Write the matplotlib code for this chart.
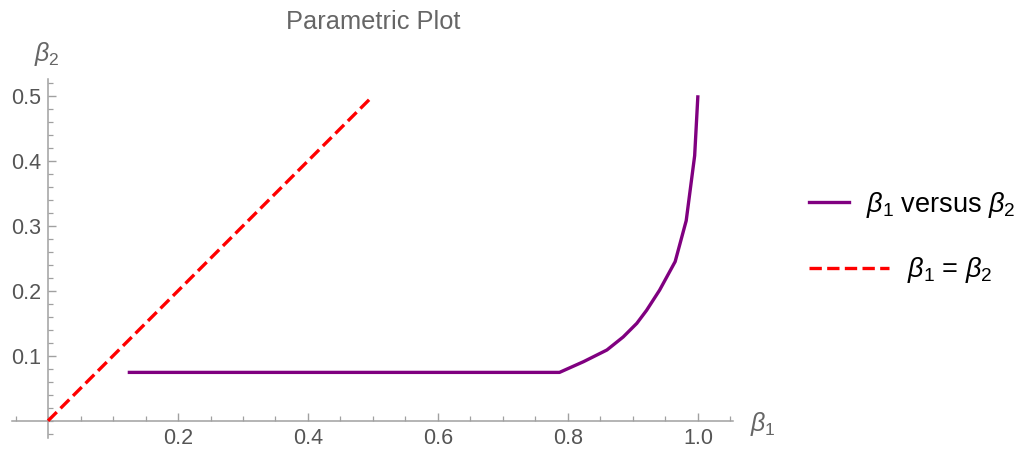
import matplotlib
matplotlib.use("Agg")
import matplotlib.pyplot as plt
from matplotlib.lines import Line2D
from matplotlib.ticker import MultipleLocator, FixedLocator
import numpy as np

plt.rcParams['font.family'] = ['Liberation Sans', 'DejaVu Sans']
plt.rcParams['mathtext.fontset'] = 'custom'
plt.rcParams['mathtext.it'] = 'Liberation Sans:italic'
plt.rcParams['mathtext.rm'] = 'Liberation Sans'

# data
beta1 = [0.1226, 0.787, 0.824, 0.860, 0.885, 0.906, 0.921, 0.941, 0.965, 0.982, 0.995, 1.0]
beta2 = [0.0745, 0.0745, 0.091, 0.109, 0.129, 0.150, 0.170, 0.201, 0.245, 0.308, 0.408, 0.501]
diag_x = [0.0, 0.495]
diag_y = [0.0, 0.495]
xticks = [0.2, 0.4, 0.6, 0.8, 1.0]
yticks = [0.1, 0.2, 0.3, 0.4, 0.5]

W, H = 1023, 453
fig = plt.figure(figsize=(W/100, H/100), dpi=100)
left, right, top, bottom = 12.3, 733, 79, 437.7
ax = fig.add_axes([left/W, 1-bottom/H, (right-left)/W, (bottom-top)/H])
ax.set_xlim(-0.055, 1.054)
ax.set_ylim(-0.026, 0.526)

purple = '#800080'
red = '#ff0000'
lw = 2.4
dash = (3.7, 1.6)
ax.plot(beta1, beta2, color=purple, lw=lw, solid_capstyle='butt', zorder=3)
ax.plot(diag_x, diag_y, color=red, lw=lw, dashes=dash, zorder=3)

axc = '#a0a0a0'
for s in ['top', 'right']:
    ax.spines[s].set_visible(False)
ax.spines['left'].set_position(('data', 0))
ax.spines['bottom'].set_position(('data', 0))
for s in ['left', 'bottom']:
    ax.spines[s].set_color(axc)
    ax.spines[s].set_linewidth(1.1)

ax.xaxis.set_major_locator(FixedLocator(xticks))
ax.yaxis.set_major_locator(FixedLocator(yticks))
ax.set_xticklabels([f'{v:.1f}' for v in xticks])
ax.set_yticklabels([f'{v:.1f}' for v in yticks])
ax.xaxis.set_minor_locator(MultipleLocator(0.05))
ax.yaxis.set_minor_locator(MultipleLocator(0.02))
ax.tick_params(which='major', direction='in', length=6, width=1.0, color=axc,
               labelsize=15.5, labelcolor='#555555', pad=5)
ax.tick_params(which='minor', direction='in', length=3.5, width=0.9, color=axc)

ax.patch.set_visible(False)

fig.text(373/W, 1-22/H, 'Parametric Plot', ha='center', va='center',
         fontsize=18.3, color='#666666')
fig.text(47/W, 1-54/H, r'$\beta_2$', ha='center', va='center', fontsize=18, color='#666666')
fig.text(763/W, 1-424/H, r'$\beta_1$', ha='center', va='center', fontsize=18, color='#666666')

# legend
fig.add_artist(Line2D([809/W, 849/W], [1-201.7/H, 1-201.7/H], color=purple, lw=lw,
                      transform=fig.transFigure))
fig.text(866/W, 1-205/H, r'$\beta_1$ versus $\beta_2$', ha='left', va='center',
         fontsize=19.5, color='black')
fig.add_artist(Line2D([809/W, 889/W], [1-267.7/H, 1-267.7/H], color=red, lw=lw,
                      dashes=dash, transform=fig.transFigure))
fig.text(907/W, 1-270/H, r'$\beta_1$ = $\beta_2$', ha='left', va='center',
         fontsize=19.5, color='black')

fig.savefig('out.png', dpi=100)
